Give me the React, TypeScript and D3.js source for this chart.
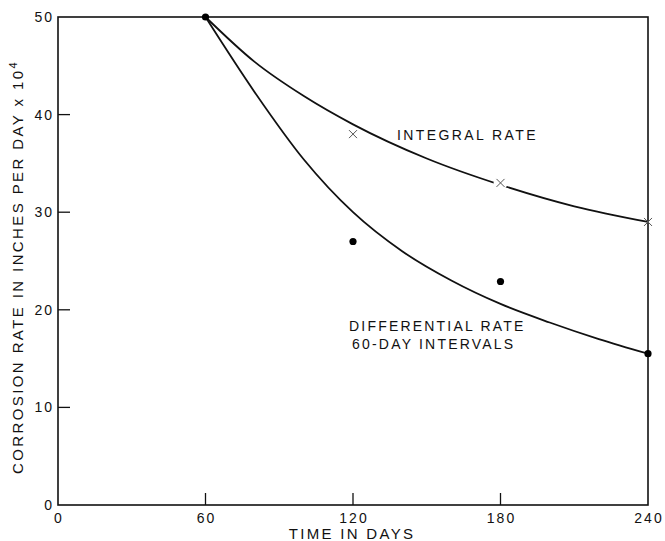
import React from 'react';
import * as d3 from 'd3';

// measured points
const days = [60, 120, 180, 240];
const integralRate = [50, 38.0, 33.0, 29.0];
const differentialRate = [50, 27.0, 22.9, 15.5];

// fitted curves as drawn on the original
const integralCurveDays = [60, 80, 100, 120, 150, 180, 210, 240];
const integralCurve = [50, 45.4, 41.9, 39.0, 35.5, 32.8, 30.6, 29.0];
const diffCurveDays = [60, 80, 100, 120, 140, 160, 180, 200, 220, 240];
const diffCurve = [50, 42.3, 35.4, 30.0, 26.0, 23.0, 20.6, 18.7, 17.0, 15.5];

const xTicks = [0, 60, 120, 180, 240];
const yTicks = [0, 10, 20, 30, 40, 50];

const W = 665;
const H = 541;
const font = '"Liberation Sans", Arial, sans-serif';

const App = () => {
  const x = d3.scaleLinear().domain([0, 240]).range([58, 648]);
  const y = d3.scaleLinear().domain([0, 50]).range([505, 17]);

  const line = d3
    .line<[number, number]>()
    .x(d => x(d[0]))
    .y(d => y(d[1]))
    .curve(d3.curveMonotoneX);

  const intPath = line(integralCurveDays.map((d, i) => [d, integralCurve[i]]));
  const diffPath = line(diffCurveDays.map((d, i) => [d, diffCurve[i]]));

  const stroke = '#111';

  return (
    <div style={{ position: 'absolute', left: 0, top: 0 }}>
      <svg width={W} height={H} style={{ display: 'block', background: '#fff' }}>
        {/* frame */}
        <rect
          x={x(0)}
          y={y(50)}
          width={x(240) - x(0)}
          height={y(0) - y(50)}
          fill="none"
          stroke={stroke}
          strokeWidth={1.6}
        />

        {/* inner ticks */}
        {yTicks.filter(t => t > 0 && t < 50).map(t => (
          <line key={'yt' + t} x1={x(0)} x2={x(0) + 12} y1={y(t)} y2={y(t)} stroke={stroke} strokeWidth={1.3} />
        ))}
        {xTicks.filter(t => t > 0 && t < 240).map(t => (
          <line key={'xt' + t} x1={x(t)} x2={x(t)} y1={y(0)} y2={y(0) - 12} stroke={stroke} strokeWidth={1.3} />
        ))}

        {/* tick labels */}
        {yTicks.map(t => (
          <text
            key={'yl' + t}
            x={x(0) - 4}
            y={y(t)}
            dy="0.36em"
            textAnchor="end"
            fontFamily={font}
            fontSize={14}
            letterSpacing={2}
            fill={stroke}
          >
            {t}
          </text>
        ))}
        {xTicks.map(t => (
          <text
            key={'xl' + t}
            x={x(t) + 1}
            y={y(0) + 18}
            textAnchor="middle"
            fontFamily={font}
            fontSize={14}
            letterSpacing={2}
            fill={stroke}
          >
            {t}
          </text>
        ))}

        {/* axis titles */}
        <text
          x={352}
          y={539}
          textAnchor="middle"
          fontFamily={font}
          fontSize={15}
          letterSpacing={2.3}
          fill={stroke}
        >
          TIME IN DAYS
        </text>
        <text
          transform={`translate(23,${267}) rotate(-90)`}
          textAnchor="middle"
          fontFamily={font}
          fontSize={15}
          letterSpacing={2.4}
          fill={stroke}
        >
          CORROSION RATE IN INCHES PER DAY x 10
          <tspan dy={-6} fontSize={11}>4</tspan>
        </text>

        {/* curves */}
        <path d={intPath || ''} fill="none" stroke={stroke} strokeWidth={1.8} />
        <path d={diffPath || ''} fill="none" stroke={stroke} strokeWidth={1.8} />

        {/* integral rate markers (x) */}
        {days.slice(1).map((d, i) => {
          const cx = x(d);
          const cy = y(integralRate[i + 1]);
          return (
            <g key={'ix' + d}>
              {d === 180 && <circle cx={cx} cy={cy} r={7} fill="#fff" />}
              <line x1={cx - 4} x2={cx + 4} y1={cy - 4} y2={cy + 4} stroke="#555" strokeWidth={1} />
              <line x1={cx - 4} x2={cx + 4} y1={cy + 4} y2={cy - 4} stroke="#555" strokeWidth={1} />
            </g>
          );
        })}

        {/* differential rate markers (dots) */}
        {days.map((d, i) => (
          <circle key={'dd' + d} cx={x(d)} cy={y(differentialRate[i])} r={3.6} fill="#000" />
        ))}

        {/* curve labels */}
        <text x={397} y={140} fontFamily={font} fontSize={14} letterSpacing={2.4} fill={stroke}>
          INTEGRAL RATE
        </text>
        <text x={349} y={331} fontFamily={font} fontSize={14} letterSpacing={2.2} fill={stroke}>
          DIFFERENTIAL RATE
        </text>
        <text x={352} y={349} fontFamily={font} fontSize={14} letterSpacing={2.2} fill={stroke}>
          60-DAY INTERVALS
        </text>
      </svg>
    </div>
  );
};

export default App;
